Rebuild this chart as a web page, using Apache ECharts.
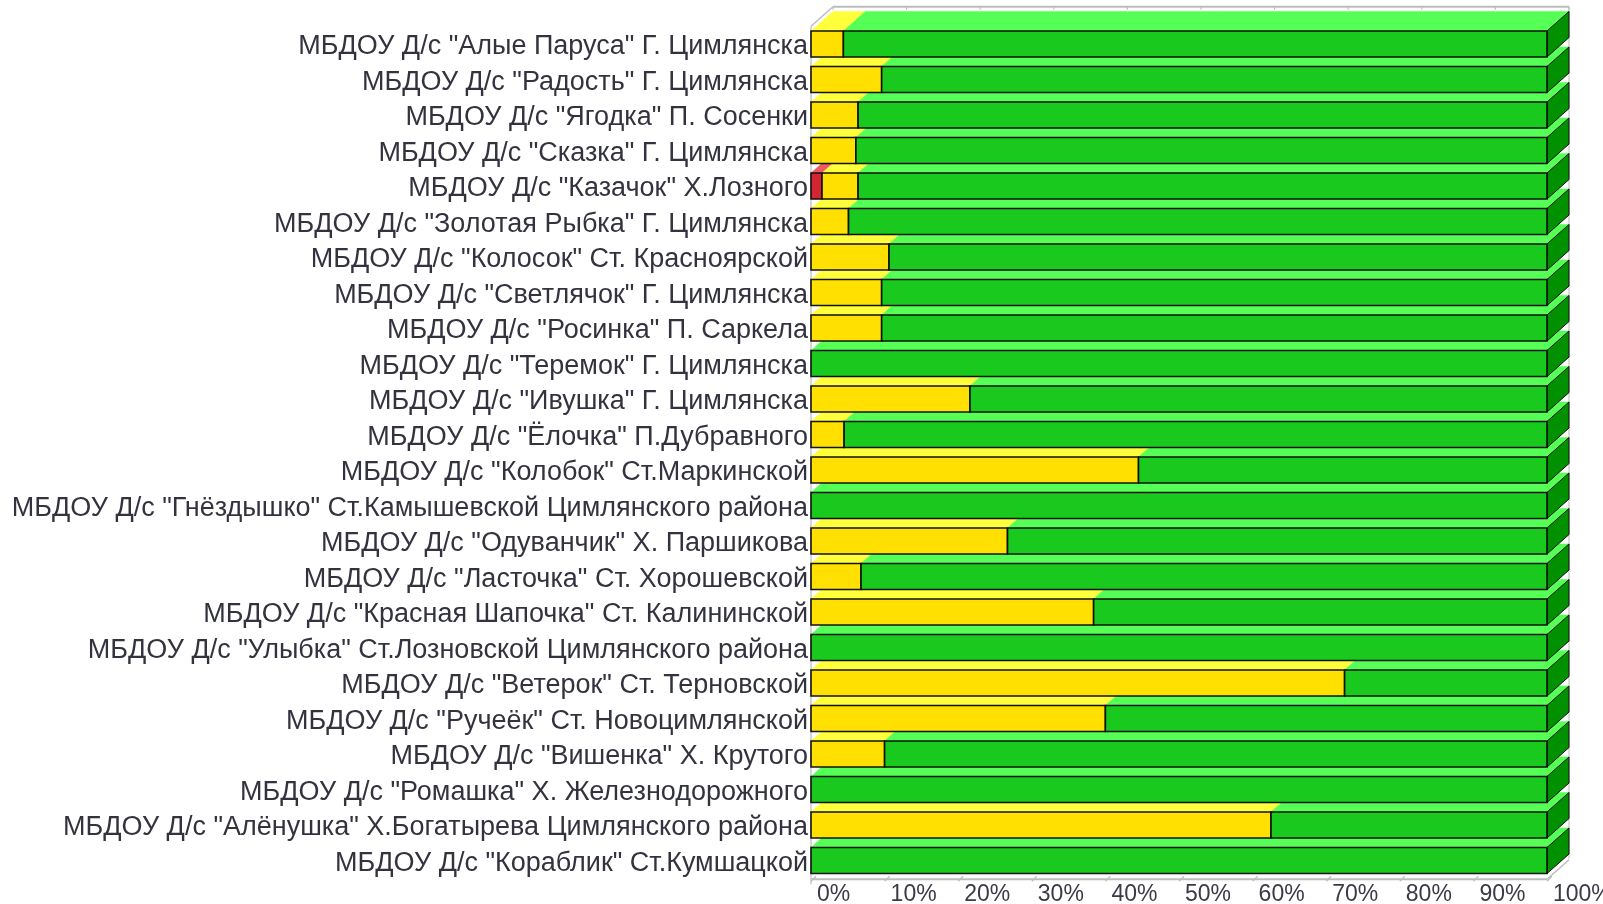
<!DOCTYPE html>
<html><head><meta charset="utf-8">
<script src="https://cdn.jsdelivr.net/npm/echarts@6/dist/echarts.min.js"></script>
<style>html,body{margin:0;padding:0;background:#fff}#c{width:1603px;height:904px}</style>
</head><body><div id="c"></div>
<script>
const categories = [
  'МБДОУ Д/с "Алые Паруса" Г. Цимлянска',
  'МБДОУ Д/с "Радость" Г. Цимлянска',
  'МБДОУ Д/с "Ягодка" П. Сосенки',
  'МБДОУ Д/с "Сказка" Г. Цимлянска',
  'МБДОУ Д/с "Казачок" Х.Лозного',
  'МБДОУ Д/с "Золотая Рыбка" Г. Цимлянска',
  'МБДОУ Д/с "Колосок" Ст. Красноярской',
  'МБДОУ Д/с "Светлячок" Г. Цимлянска',
  'МБДОУ Д/с "Росинка" П. Саркела',
  'МБДОУ Д/с "Теремок" Г. Цимлянска',
  'МБДОУ Д/с "Ивушка" Г. Цимлянска',
  'МБДОУ Д/с "Ёлочка" П.Дубравного',
  'МБДОУ Д/с "Колобок" Ст.Маркинской',
  'МБДОУ Д/с "Гнёздышко" Ст.Камышевской Цимлянского района',
  'МБДОУ Д/с "Одуванчик" Х. Паршикова',
  'МБДОУ Д/с "Ласточка" Ст. Хорошевской',
  'МБДОУ Д/с "Красная Шапочка" Ст. Калининской',
  'МБДОУ Д/с "Улыбка" Ст.Лозновской Цимлянского района',
  'МБДОУ Д/с "Ветерок" Ст. Терновской',
  'МБДОУ Д/с "Ручеёк" Ст. Новоцимлянской',
  'МБДОУ Д/с "Вишенка" Х. Крутого',
  'МБДОУ Д/с "Ромашка" Х. Железнодорожного',
  'МБДОУ Д/с "Алёнушка" Х.Богатырева Цимлянского района',
  'МБДОУ Д/с "Кораблик" Ст.Кумшацкой'
];
const redValues    = [0, 0, 0, 0, 1.5, 0, 0, 0, 0, 0, 0, 0, 0, 0, 0, 0, 0, 0, 0, 0, 0, 0, 0, 0];
const yellowValues = [4.4, 9.6, 6.4, 6.1, 4.9, 5.1, 10.6, 9.6, 9.6, 0, 21.6, 4.5, 44.5, 0, 26.7, 6.8, 38.4, 0, 72.5, 40, 10, 0, 62.5, 0];
const greenValues  = [95.6, 90.4, 93.6, 93.9, 93.6, 94.9, 89.4, 90.4, 90.4, 100, 78.4, 95.5, 55.5, 100, 73.3, 93.2, 61.6, 100, 27.5, 60, 90, 100, 37.5, 100];
const tickLabels = ['0%', '10%', '20%', '30%', '40%', '50%', '60%', '70%', '80%', '90%', '100%'];

const DX = 22, DY = 19.5;
const FACES = [
  {front: '#D42630', top: '#EE5A64', side: '#9A1018'},
  {front: '#FFE000', top: '#FFFF3C', side: '#C8A800'},
  {front: '#19C91E', top: '#55FF55', side: '#009000'}
];
const rows = categories.map((c, i) => [i, redValues[i], yellowValues[i], greenValues[i]]).reverse();

function renderRow(params, api) {
  const cat = api.value(0);
  const vals = [api.value(1), api.value(2), api.value(3)];
  const bandH = api.size([0, 1])[1];
  const h = bandH * 0.735;
  const z = 1000 - cat * 10;
  const tops = [], fronts = [];
  let start = 0, last = null;
  vals.forEach((v, k) => {
    if (!v) return;
    const end = start + v;
    const p0 = api.coord([start, cat]);
    const p1 = api.coord([end, cat]);
    const yT = p0[1] - h / 2;
    tops.push({type: 'polygon', z2: z,
      shape: {points: [[p0[0], yT], [p1[0], yT], [p1[0] + DX, yT - DY], [p0[0] + DX, yT - DY]]},
      style: {fill: FACES[k].top, stroke: FACES[k].top, lineWidth: 0.5}});
    fronts.push({type: 'rect', z2: z + 2,
      shape: {x: p0[0], y: yT, width: p1[0] - p0[0], height: h},
      style: {fill: FACES[k].front, stroke: '#111', lineWidth: 1.6}});
    last = {x: p1[0], yT: yT, k: k};
    start = end;
  });
  const children = tops.concat(fronts);
  if (last) {
    children.push({type: 'polygon', z2: z + 1,
      shape: {points: [[last.x, last.yT], [last.x + DX, last.yT - DY], [last.x + DX, last.yT - DY + h], [last.x, last.yT + h]]},
      style: {fill: FACES[last.k].side, stroke: '#111', lineWidth: 1}});
  }
  return {type: 'group', children: children};
}

function renderFrame(params, api) {
  const n = categories.length;
  const bandH = api.size([0, 1])[1];
  const top = api.coord([0, 0])[1] - bandH / 2;
  const bottom = api.coord([0, n - 1])[1] + bandH / 2;
  const x0 = api.coord([0, 0])[0];
  const x1 = api.coord([100, 0])[0];
  const grey = '#BDBDBD';
  const ch = [];
  ch.push({type: 'line', shape: {x1: x0 + DX, y1: top - DY, x2: x1 + DX, y2: top - DY}, style: {stroke: grey, lineWidth: 2}});
  ch.push({type: 'line', shape: {x1: x0 + DX, y1: top - DY, x2: x0, y2: top}, style: {stroke: grey, lineWidth: 1.5}});
  ch.push({type: 'line', shape: {x1: x1 + DX, y1: top - DY, x2: x1 + DX, y2: bottom - DY}, style: {stroke: '#D0D0D0', lineWidth: 1.5}});
  ch.push({type: 'line', shape: {x1: x0, y1: bottom + 1, x2: x1, y2: bottom + 1}, style: {stroke: grey, lineWidth: 2}});
  ch.push({type: 'line', shape: {x1: x1, y1: bottom + 1, x2: x1 + DX, y2: bottom - DY + 1}, style: {stroke: grey, lineWidth: 1.5}});
  ch.push({type: 'line', shape: {x1: x0, y1: top, x2: x0, y2: bottom + 6}, style: {stroke: '#C8C8C8', lineWidth: 1.5}});
  for (let i = 0; i <= 10; i++) {
    const x = api.coord([i * 10, 0])[0];
    ch.push({type: 'line', shape: {x1: x, y1: bottom + 3, x2: x + 5, y2: bottom - 2}, style: {stroke: grey, lineWidth: 1.2}});
    ch.push({type: 'line', shape: {x1: x + DX, y1: top - DY, x2: x + DX, y2: top - DY + 3}, style: {stroke: grey, lineWidth: 1.2}});
  }
  return {type: 'group', children: ch};
}

const chart = echarts.init(document.getElementById('c'), null, {renderer: 'canvas'});
chart.setOption({
  backgroundColor: '#fff',
  animation: false,
  grid: {left: 811, right: 56, top: 26.25, bottom: 25.75, containLabel: false, outerBoundsMode: 'none'},
  xAxis: {
    type: 'value', min: 0, max: 100, interval: 10,
    axisLine: {show: false}, axisTick: {show: false}, splitLine: {show: false},
    axisLabel: {
      formatter: v => tickLabels[Math.round(v / 10)],
      align: 'left', padding: [0, 0, 0, 6], margin: 5,
      fontFamily: 'Liberation Sans', fontSize: 23, color: '#3A3A48'
    }
  },
  yAxis: {
    type: 'category', data: categories, inverse: true,
    axisLine: {show: false}, axisTick: {show: false},
    axisLabel: {
      margin: 3,
      formatter: v => '{a|' + v + '}',
      rich: {a: {padding: [6, 0, 0, 0], fontFamily: 'Liberation Sans', fontSize: 27, color: '#333340'}},
      fontFamily: 'Liberation Sans', fontSize: 27, color: '#333340'
    }
  },
  series: [
    {type: 'custom', name: 'frame', renderItem: renderFrame, data: [[0, 0, 0, 0]], z: 1, silent: true},
    {type: 'custom', name: 'rows', renderItem: renderRow, data: rows, z: 2,
      encode: {y: 0, x: [1, 2, 3]}}
  ]
});
</script>
</body></html>
